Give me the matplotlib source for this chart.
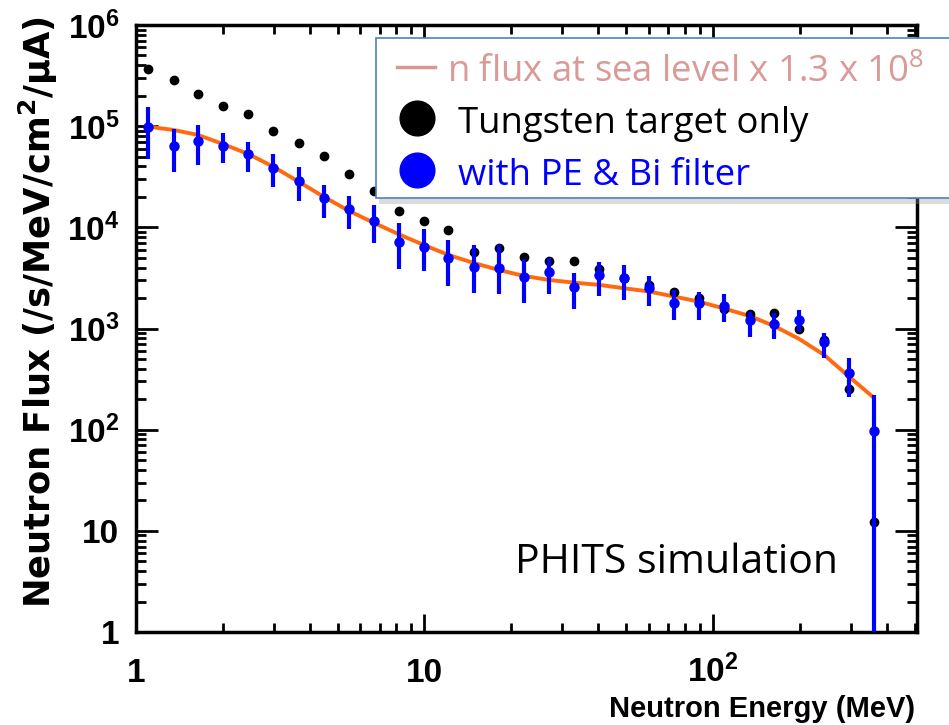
import matplotlib
matplotlib.use('Agg')
import matplotlib.pyplot as plt
from matplotlib.ticker import LogLocator, NullFormatter
from matplotlib.patches import Rectangle
from matplotlib.lines import Line2D

plt.rcParams['font.family'] = ['Liberation Sans', 'DejaVu Sans']
plt.rcParams['mathtext.default'] = 'regular'

# energy bin centres (MeV)
energy = [1.1, 1.35, 1.64, 2.0, 2.45, 2.99, 3.66, 4.47, 5.46, 6.67,
          8.14, 9.94, 12.1, 14.8, 18.1, 22.1, 27.0, 33.0, 40.3, 49.2,
          60.1, 73.4, 89.6, 109, 134, 163, 199, 243, 297, 362]

# tungsten target only (black dots)
tungsten = [3.67e5, 2.87e5, 2.07e5, 1.58e5, 1.31e5, 8.97e4, 6.8e4, 5.1e4, 3.4e4, 2.3e4,
            1.46e4, 1.16e4, 9.4e3, 5.75e3, 6.2e3, 5.14e3, 4.66e3, 4.66e3, 3.85e3, 3.15e3,
            2.7e3, 2.32e3, 2.0e3, 1.57e3, 1.39e3, 1.43e3, 985, 771, 253, 12.2]

# with PE & Bi filter (blue, with error bars)
filtered = [9.9e4, 6.4e4, 7.1e4, 6.4e4, 5.3e4, 3.89e4, 2.9e4, 1.94e4, 1.51e4, 1.16e4,
            7.2e3, 6.45e3, 5.0e3, 4.1e3, 4.0e3, 3.26e3, 3.65e3, 2.6e3, 3.39e3, 3.14e3,
            2.54e3, 1.8e3, 1.78e3, 1.65e3, 1.22e3, 1.11e3, 1.22e3, 743, 361, 98]
filt_hi = [1.54e5, 9.3e4, 1.03e5, 8.6e4, 7.0e4, 5.3e4, 3.98e4, 2.62e4, 2.04e4, 1.66e4,
           1.1e4, 9.6e3, 7.5e3, 6.7e3, 6.7e3, 4.84e3, 5.0e3, 3.57e3, 4.52e3, 4.25e3,
           3.31e3, 2.4e3, 2.3e3, 2.18e3, 1.47e3, 1.42e3, 1.53e3, 899, 509, 221]
filt_lo = [4.71e4, 3.5e4, 4.14e4, 4.3e4, 3.5e4, 2.52e4, 1.84e4, 1.23e4, 9.6e3, 6.96e3,
           3.85e3, 3.7e3, 2.64e3, 2.26e3, 2.18e3, 1.8e3, 2.18e3, 1.55e3, 2.11e3, 1.92e3,
           1.67e3, 1.22e3, 1.22e3, 1.17e3, 832, 784, 931, 509, 212, 0.1]

# sea level neutron flux x 1.3e8 (orange curve)
sea_energy = [1.1, 1.35, 1.64, 2.0, 2.45, 2.99, 3.66, 4.47, 5.46, 6.67,
              8.14, 9.94, 12.1, 14.8, 18.1, 22.1, 27.0, 33.0, 40.3, 49.2,
              60.1, 73.4, 89.6, 109, 134, 163, 199, 243, 297, 355]
sea_flux = [9.9e4, 9.17e4, 8.19e4, 6.67e4, 5.31e4, 3.98e4, 2.83e4, 2.01e4, 1.46e4, 1.11e4,
            8.55e3, 6.7e3, 5.34e3, 4.45e3, 3.79e3, 3.31e3, 3.02e3, 2.84e3, 2.70e3, 2.5e3,
            2.32e3, 2.07e3, 1.84e3, 1.58e3, 1.33e3, 1.06e3, 789, 548, 333, 216]

xticks = [1, 10, 100]
xticklabels = ['1', '10', '$10^{2}$']
yticks = [1, 10, 1e2, 1e3, 1e4, 1e5, 1e6]
yticklabels = ['1', '10', '$10^{2}$', '$10^{3}$', '$10^{4}$', '$10^{5}$', '$10^{6}$']

W, H = 949, 725
fig = plt.figure(figsize=(W / 100, H / 100), dpi=100)
ax = fig.add_axes([136 / W, 93 / H, 781 / W, 607 / H])

err = [[f - l for f, l in zip(filtered, filt_lo)],
       [h - f for f, h in zip(filtered, filt_hi)]]

ax.plot(sea_energy, sea_flux, color='#FF6A10', lw=2.8, zorder=2)
ax.plot(energy, tungsten, 'o', color='black', ms=6, zorder=3)
ax.errorbar(energy, filtered, yerr=err, fmt='o', color='#0000FF', ms=6.5,
            elinewidth=3, capsize=0, zorder=4)

ax.set_xscale('log')
ax.set_yscale('log')
ax.set_xlim(1, 510)
ax.set_ylim(1, 1e6)

ax.set_xticks(xticks, labels=xticklabels, fontsize=24, fontweight='bold', va='baseline')
ax.set_yticks(yticks, labels=yticklabels, fontsize=24, fontweight='bold')
for a in (ax.xaxis, ax.yaxis):
    a.set_minor_locator(LogLocator(base=10, subs=[2, 3, 4, 5, 6, 7, 8, 9], numticks=100))
    a.set_minor_formatter(NullFormatter())

ax.tick_params(which='both', direction='in', top=True, right=True, width=2)
ax.tick_params(axis='y', which='major', length=16, pad=12)
ax.tick_params(axis='y', which='minor', length=7)
ax.tick_params(axis='x', which='major', length=13, pad=36)
ax.tick_params(axis='x', which='minor', length=6.5)
for s in ax.spines.values():
    s.set_linewidth(2.5)

fig.text(915 / W, 1 - 717 / H, 'Neutron Energy (MeV)', ha='right', va='baseline',
         fontsize=21, fontweight='bold')
fig.text(38 / W, 1 - 312 / H, 'Neutron Flux (/s/MeV/cm$^2$/μA)', rotation=90,
         ha='center', va='center', fontsize=25.5, fontweight='bold', family='DejaVu Sans')

fig.text(515 / W, 1 - 573 / H, 'PHITS simulation', ha='left', va='baseline',
         fontsize=29.5, family='Open Sans')


# legend box (runs off the right edge like the slide)
def fx(x):
    return x / W


def fy(y):
    return 1 - y / H


fig.add_artist(Rectangle((fx(379), fy(204)), fx(600), 160 / H, transform=fig.transFigure,
                         facecolor='#999999', edgecolor='none', alpha=0.35, zorder=9))
fig.add_artist(Rectangle((fx(376), fy(198)), fx(600), 160 / H, transform=fig.transFigure,
                         facecolor='white', edgecolor='#4F81BD', lw=1.2, zorder=10))
fig.add_artist(Line2D([fx(397), fx(435)], [fy(67), fy(67)], transform=fig.transFigure,
                      color='#D99694', lw=2.5, zorder=11))
fig.add_artist(Line2D([fx(417)], [fy(118)], transform=fig.transFigure, marker='o',
                      ms=25, color='black', ls='', zorder=11))
fig.add_artist(Line2D([fx(417)], [fy(170)], transform=fig.transFigure, marker='o',
                      ms=25, color='#0000FF', ls='', zorder=11))
fig.text(fx(447), fy(82), 'n flux at sea level x 1.3 x 10$^8$', color='#D99A98',
         fontsize=26.3, family='Open Sans', va='baseline', zorder=12)
fig.text(fx(458), fy(133), 'Tungsten target only', color='black',
         fontsize=26.3, family='Open Sans', va='baseline', zorder=12)
fig.text(fx(458), fy(185), 'with PE & Bi filter', color='#0000FF',
         fontsize=26.3, family='Open Sans', va='baseline', zorder=12)

fig.savefig('out.png', dpi=100)
